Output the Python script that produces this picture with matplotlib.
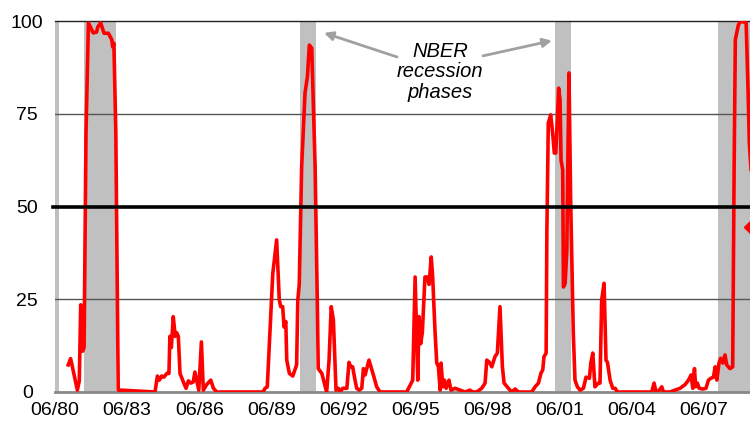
import matplotlib
matplotlib.use("Agg")
import matplotlib.pyplot as plt
import numpy as np

plt.rcParams['font.family'] = ['Liberation Sans', 'DejaVu Sans']

# decimal-year dates and probability values (%)
dates = [1981.05, 1981.15, 1981.43, 1981.51, 1981.57, 1981.65, 1981.71, 1981.79, 1981.89,
         1982.09, 1982.23, 1982.28, 1982.40, 1982.54, 1982.72, 1982.86, 1982.90, 1982.95,
         1983.03, 1983.13, 1983.27, 1984.66, 1984.76, 1984.84, 1984.94, 1985.03, 1985.15,
         1985.24, 1985.28, 1985.34, 1985.42, 1985.50, 1985.56, 1985.63, 1985.70, 1985.84,
         1985.95, 1986.05, 1986.15, 1986.25, 1986.32, 1986.40, 1986.48, 1986.59, 1986.67,
         1986.81, 1986.98, 1987.09, 1987.23, 1989.15, 1989.24, 1989.33, 1989.44, 1989.56,
         1989.72, 1989.83, 1989.89, 1989.97, 1990.03, 1990.10, 1990.14, 1990.25, 1990.39,
         1990.48, 1990.55, 1990.60, 1990.66, 1990.76, 1990.90, 1991.00, 1991.08, 1991.18,
         1991.32, 1991.41, 1991.45, 1991.60, 1991.69, 1991.80, 1991.90, 1991.99, 1992.08,
         1992.19, 1992.29, 1992.36, 1992.47, 1992.64, 1992.73, 1992.80, 1992.88, 1992.98,
         1993.05, 1993.16, 1993.26, 1993.33, 1993.40, 1993.47, 1993.56, 1993.68, 1993.77,
         1993.88, 1994.02, 1995.13, 1995.24, 1995.38, 1995.48, 1995.59, 1995.64, 1995.71,
         1995.78, 1995.89, 1995.99, 1996.06, 1996.15, 1996.21, 1996.31, 1996.38, 1996.45,
         1996.52, 1996.56, 1996.63, 1996.70, 1996.77, 1996.89, 1996.97, 1997.14, 1997.35,
         1997.56, 1997.76, 1997.88, 1998.04, 1998.25, 1998.39, 1998.46, 1998.57, 1998.67,
         1998.80, 1998.90, 1999.01, 1999.11, 1999.18, 1999.36, 1999.50, 1999.64, 1999.77,
         2000.33, 2000.47, 2000.61, 2000.71, 2000.79, 2000.84, 2000.93, 2000.96, 2001.02,
         2001.12, 2001.20, 2001.27, 2001.33, 2001.40, 2001.45, 2001.51, 2001.55, 2001.62,
         2001.65, 2001.72, 2001.79, 2001.83, 2001.88, 2001.95, 2002.06, 2002.13, 2002.23,
         2002.34, 2002.48, 2002.59, 2002.73, 2002.79, 2002.87, 2002.96, 2003.10, 2003.17,
         2003.24, 2003.34, 2003.42, 2003.48, 2003.59, 2003.70, 2003.80, 2003.89, 2005.32,
         2005.42, 2005.50, 2005.64, 2005.74, 2005.81, 2006.08, 2006.29, 2006.50, 2006.71,
         2006.85, 2006.96, 2007.03, 2007.10, 2007.15, 2007.22, 2007.30, 2007.44, 2007.58,
         2007.68, 2007.78, 2007.89, 2007.96, 2008.03, 2008.12, 2008.19, 2008.28, 2008.37,
         2008.44, 2008.58, 2008.69, 2008.75, 2008.80, 2008.93, 2009.03, 2009.25, 2009.34,
         2009.38, 2009.50]
probability = [7.3, 9, 0.5, 3, 23.5, 11, 12, 70, 99.5,
               96.8, 97, 98.4, 99.5, 96.7, 96.7, 95, 93, 94,
               70, 0.5, 0.5, 0, 4.3, 3.2, 4.3, 4, 5,
               5, 15, 12, 20.3, 15, 16, 15, 5, 2.7,
               1, 3, 2.4, 2.7, 5.4, 3, 0.5, 13.5, 0.5,
               2, 3.2, 1, 0, 0, 1, 1.4, 16, 32,
               41, 24.8, 23, 23, 17.5, 19, 8.6, 5, 4.3,
               6, 7.3, 24.8, 29, 60.7, 80.6, 85, 93.5, 92.7,
               60.7, 24.8, 6.3, 5, 2.7, 0, 8.6, 23, 19.4,
               0.5, 1, 0, 1, 1, 8, 6.8, 6.8, 3.2,
               1, 0.5, 1, 6.3, 4.6, 6.3, 8.6, 6, 4,
               1.4, 0, 0, 1.4, 3.2, 31, 3.2, 20.3, 13,
               16, 31, 31, 29, 36.4, 31, 16, 7.8, 6.8,
               0.5, 7.8, 1.4, 3.2, 1, 3.2, 0.5, 1, 0.5,
               0, 0.5, 0, 0, 1, 2.4, 8.6, 8, 6.8,
               9.5, 10.5, 23, 6.8, 2.4, 1, 0, 0.8, 0,
               0, 1.4, 2.4, 5, 6, 9.5, 10.5, 43, 72.5,
               74.7, 69.8, 64.4, 64.4, 74, 81.9, 78.7, 62.5, 59.8,
               28.3, 29.3, 38, 60.6, 86, 51.7, 15.9, 3.2, 1.4,
               0.5, 1, 4, 3.7, 7.8, 10.5, 1.4, 2.4, 2.4,
               24.8, 29.3, 8.6, 8, 3.2, 1, 1, 0, 0,
               2.4, 0, 0.5, 1.4, 0, 0, 0.5, 1, 2,
               3.2, 4.6, 1, 6.3, 1.4, 2.4, 1, 0.8, 1,
               3.2, 3.7, 4, 6.8, 3.2, 7.8, 9.1, 7.8, 10,
               7.3, 6.3, 6.8, 60.7, 95, 99, 100, 99.5, 78.7,
               67.4, 55]

latest_date = [2009.46]
latest_value = [44.5]

# NBER recession phases (start, end) in decimal years
rec_start = [1980.0, 1981.71, 1990.69, 2001.30, 2008.08]
rec_end = [1980.68, 1983.04, 1991.36, 2001.97, 2010.0]

tick_years = [1980.5 + 3 * i for i in range(10)]
tick_labels = ['06/80', '06/83', '06/86', '06/89', '06/92', '06/95',
               '06/98', '06/01', '06/04', '06/07']
y_ticks = [0, 25, 50, 75, 100]
annotation = "NBER\nrecession\nphases"

fig = plt.figure(figsize=(7.5, 4.26), dpi=100)
ax = fig.add_axes([55 / 750, 34 / 426, 695 / 750, 371 / 426])

for s, e in zip(rec_start, rec_end):
    ax.axvspan(s, e, color='#c0c0c0', lw=0, zorder=1)

ax.axhline(25, color='#555555', lw=1.0, zorder=2)
ax.axhline(75, color='#555555', lw=1.0, zorder=2)
ax.axhline(100, color='#222222', lw=1.0, zorder=2, clip_on=False)
ax.axhline(0, color='#888888', lw=2.0, zorder=2, clip_on=False)
ax.axhline(50, color='black', lw=2.6, zorder=4, clip_on=False, xmin=-0.003)

ax.plot(dates, probability, color='#ff0000', lw=2.6, zorder=3, solid_joinstyle='round')
ax.plot(latest_date, latest_value, marker='D', color='#ff0000', markersize=7, lw=0, zorder=3)

ax.set_xlim(1980.5, 2009.41)
ax.set_ylim(0, 100)
ax.set_xticks(tick_years)
ax.set_xticklabels(tick_labels)
ax.set_yticks(y_ticks)
ax.tick_params(axis='both', length=0, labelsize=14, colors='black')
ax.tick_params(axis='x', pad=7)
ax.tick_params(axis='y', pad=20)
for lbl in ax.get_yticklabels():
    lbl.set_horizontalalignment('center')
for sp in ax.spines.values():
    sp.set_visible(False)

ax.text(1996.52, 86.3, annotation, ha='center', va='center', fontsize=14.5,
        style='italic', linespacing=1.1, zorder=5)
arrow = dict(arrowstyle='-|>', color='#a0a0a0', lw=2, mutation_scale=13, shrinkA=0, shrinkB=0)
ax.annotate('', xy=(1991.69, 96.8), xytext=(1994.73, 90.3), arrowprops=arrow, zorder=5)
ax.annotate('', xy=(2001.17, 94.7), xytext=(1998.30, 90.6), arrowprops=arrow, zorder=5)

fig.savefig('out.png', dpi=100)
